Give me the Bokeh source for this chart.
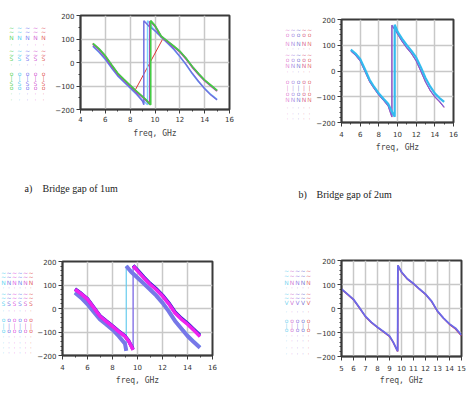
from bokeh.plotting import figure
from bokeh.layouts import column, row
from bokeh.models import FixedTicker, Range1d
from bokeh.core.properties import value
from bokeh.embed import file_html
from bokeh.resources import INLINE

# ---------------- data ----------------
# (a) bridge gap 1um
a_green_x = [5, 5.5, 6, 6.5, 7, 7.5, 8, 8.5, 9, 9.3, 9.65, 9.65, 10, 10.5, 11, 11.5, 12, 12.5, 13, 13.5, 14, 14.5, 15]
a_green_y = [81, 58, 28, -10, -46, -72, -97, -122, -145, -160, -180, 178, 157, 112, 91, 70, 48, 18, -17, -47, -75, -97, -119]
a_mag_x = [5, 5.5, 6, 6.5, 7, 7.5, 8, 8.5, 9, 9.3, 9.6, 9.6, 10, 10.5, 11, 11.5, 12, 12.5, 13, 13.5, 14, 14.5, 15]
a_mag_y = [79, 56, 26, -12, -48, -74, -99, -124, -147, -162, -178, 176, 155, 110, 89, 68, 46, 16, -19, -49, -77, -99, -121]
a_blue_x = [5, 5.5, 6, 6.5, 7, 7.5, 8, 8.5, 9, 9.1, 9.1, 9.5, 10, 10.5, 11, 11.5, 12, 12.5, 13, 13.5, 14, 14.5, 15]
a_blue_y = [70, 45, 15, -22, -56, -82, -107, -133, -165, -180, 178, 155, 135, 110, 84, 58, 26, -8, -46, -80, -112, -138, -159]
a_cyan_x = [5, 5.5, 6, 6.5, 7, 7.5, 8, 8.5, 9, 9.4, 9.4, 10, 10.5, 11, 11.5, 12, 12.5, 13, 13.5, 14, 14.5, 15]
a_cyan_y = [68, 43, 13, -24, -58, -84, -109, -135, -160, -180, 178, 133, 108, 82, 56, 24, -10, -48, -82, -110, -136, -157]
a_red_x = [5, 6, 7, 8.4, 10.6, 11, 12, 13, 14, 15]
a_red_y = [80, 27, -47, -118, 98, 90, 47, -18, -76, -120]

# (b) bridge gap 2um
b_cyan_x = [5, 5.5, 6, 6.5, 7, 7.5, 8, 8.5, 9, 9.5, 9.7, 9.7, 10, 10.5, 11, 11.5, 12, 12.5, 13, 13.5, 14, 14.5, 15]
b_cyan_y = [83, 68, 47, 8, -33, -62, -87, -108, -127, -165, -178, 180, 153, 125, 100, 78, 53, 15, -27, -60, -87, -105, -120]
b_pur_x = [5, 5.5, 6, 6.5, 7, 7.5, 8, 8.5, 9, 9.4, 9.4, 10, 10.5, 11, 11.5, 12, 12.5, 13, 13.5, 14, 14.5, 15]
b_pur_y = [78, 62, 40, 0, -40, -68, -93, -113, -135, -178, 178, 145, 115, 90, 68, 40, 0, -42, -75, -100, -118, -140]
b_red_y = [77, 61, 39, -1, -41, -69, -94, -114, -136, -179, 177, 144, 114, 89, 67, 39, -1, -43, -76, -101, -120, -142]

# (c)
c_mag_x = [5, 5.5, 6, 6.5, 7, 7.5, 8, 8.5, 9, 9.3, 9.65, 9.65, 10, 10.5, 11, 11.5, 12, 12.5, 13, 13.5, 14, 14.5, 15]
c_mag_y = [81, 62, 39, 3, -33, -55, -76, -98, -119, -140, -176, 181, 160, 130, 103, 80, 53, 20, -19, -45, -67, -92, -119]
c_blue_y = [83, 64, 41, 5, -31, -53, -74, -96, -117, -138, -174, 183, 164, 134, 107, 84, 57, 24, -15, -41, -63, -88, -114]
c_slate_x = [5, 5.5, 6, 6.5, 7, 7.5, 8, 8.5, 9, 9.1, 9.1, 9.5, 10, 10.5, 11, 11.5, 12, 12.5, 13, 13.5, 14, 14.5, 15]
c_slate_y = [67, 45, 18, -15, -47, -68, -90, -118, -150, -180, 181, 155, 131, 106, 81, 55, 24, -12, -53, -85, -117, -143, -167]
c_cyan_y = [69, 47, 20, -13, -45, -66, -88, -116, -148, -178, 181, 157, 133, 108, 83, 57, 26, -10, -51, -83, -113, -140, -164]

# (d)
d_x = [5, 5.5, 6, 6.5, 7, 7.5, 8, 8.5, 9, 9.3, 9.6, 9.68, 9.7, 10, 10.5, 11, 11.5, 12, 12.5, 13, 13.5, 14, 14.5, 15]
d_blue_y = [81, 60, 38, 3, -33, -58, -78, -96, -115, -139, -170, -178, 180, 152, 123, 104, 81, 60, 31, -11, -40, -64, -82, -111]
d_red_y = [80, 59, 37, 2, -34, -59, -79, -97, -116, -140, -171, -179, 179, 151, 122, 103, 80, 59, 30, -12, -41, -66, -85, -114]

x_ticks_2 = [4, 6, 8, 10, 12, 14, 16]
x_minor_2 = [5, 7, 9, 11, 13, 15]
x_ticks_1 = [5, 6, 7, 8, 9, 10, 11, 12, 13, 14, 15]
y_ticks = [-200, -100, 0, 100, 200]
x_label = "freq, GHz"
caption_marks = ["a)", "Bridge gap of 1um", "b)", "Bridge gap of 2um"]

# legend glyph rows (the garbled trace names at the left of each chart)
leg_a_chars = ["~", "~", "N", "·", "~", "~", "S", "·", "o", "|", "S", "o", "·", "·"]
leg_b_chars = ["~", "o", "N", "·", "~", "o", "N", "·", "o", "|", "o", "N", "·", "·", "·"]
leg_c_chars = ["~", "~", "N", "·", "~", "~", "S", "·", "o", "|", "o", "·", "·", "·", "·"]
leg_d_chars = ["~", "~", "N", "·", "~", "~", "V", "·", "o", "|", "o", "·", "·", "·", "·"]

# ---------------- styling ----------------
GRID = "#c8c8c8"
DARK = "#3a3a3a"
leg_a_rows = [27, 31, 37, 44, 50, 54, 58, 64, 73, 77, 83, 87, 93, 99]
leg_b_rows = [29, 34, 43, 48, 54, 59, 65, 71, 81, 87, 93, 99, 107, 113, 118]
leg_c_rows = [32, 36, 42, 47, 53, 57, 63, 70, 79, 85, 90, 96, 102, 107, 112]
leg_d_rows = [30, 35, 42, 47, 53, 57, 62, 71, 80, 85, 89, 95, 100, 107, 113]


def make_fig(w, h, left, right, top, bottom, xr, xt, xm, ym, tick_dy, lab_dy):
    p = figure(width=w, height=h, x_range=xr, y_range=(-200, 200), title=None,
               output_backend="svg", toolbar_location=None, frame_align=False,
               min_border_left=left, min_border_right=right,
               min_border_top=top, min_border_bottom=bottom)
    p.background_fill_color = "white"
    p.border_fill_color = "white"
    p.outline_line_color = DARK
    p.outline_line_width = 2
    p.xaxis.ticker = FixedTicker(ticks=xt, minor_ticks=xm)
    p.yaxis.ticker = FixedTicker(ticks=y_ticks, minor_ticks=ym)
    p.xgrid.ticker = FixedTicker(ticks=xt)
    p.ygrid.ticker = FixedTicker(ticks=y_ticks)
    for g in (p.xgrid, p.ygrid):
        g.grid_line_color = GRID
        g.grid_line_width = 1.5
    for ax in (p.xaxis, p.yaxis):
        ax.axis_line_color = DARK
        ax.axis_line_width = 1.5
        ax.major_tick_line_color = DARK
        ax.minor_tick_line_color = DARK
        ax.major_tick_in = 0
        ax.major_tick_out = 4
        ax.minor_tick_in = 0
        ax.minor_tick_out = 2
        ax.major_label_text_font = "DejaVu Sans"
        ax.major_label_text_font_size = "7px"
        ax.major_label_text_color = "#333333"
    p.xaxis.major_label_standoff = tick_dy
    p.yaxis.major_label_standoff = 2
    p.xaxis.axis_label = x_label
    p.xaxis.axis_label_text_font = "DejaVu Sans Mono"
    p.xaxis.axis_label_text_font_size = "8px"
    p.xaxis.axis_label_text_font_style = "normal"
    p.xaxis.axis_label_text_color = "#444444"
    p.xaxis.axis_label_standoff = lab_dy
    return p


def blank(w, h):
    p = figure(width=w, height=h, x_range=Range1d(0, w), y_range=Range1d(h, 0),
               title=None, output_backend="svg", toolbar_location=None,
               min_border=0, frame_align=False)
    p.axis.visible = False
    p.grid.visible = False
    p.outline_line_color = None
    p.background_fill_color = "white"
    p.border_fill_color = "white"
    return p


def legend_fig(w, h, x0, dx, colors, rows, chars):
    p = blank(w, h)
    xs, ys, ts, cs = [], [], [], []
    for yy, ch in zip(rows, chars):
        for i, c in enumerate(colors):
            xs.append(x0 + i * dx)
            ys.append(yy)
            ts.append(ch)
            cs.append(c)
    p.text(x=xs, y=ys, text=ts, text_color=cs, text_font=value("DejaVu Sans"),
           text_font_size="6px", text_align="center", text_baseline="middle",
           text_alpha=0.85)
    return p


def pieces(xs, ys):
    # split a wrapped phase trace into its two branches (before / after the jump)
    k = [i for i in range(1, len(xs)) if ys[i] - ys[i - 1] > 180][0]
    return (xs[:k], ys[:k]), (xs[k:], ys[k:])


# ---- top row
leg_a = legend_fig(52, 160, 11, 8, ["#44cc44", "#33c4ee", "#6666ee", "#cc44cc", "#dd4444"],
                   leg_a_rows, leg_a_chars)
pa = make_fig(188, 160, 25, 11, 15, 51, (4, 16), x_ticks_2, x_minor_2,
              list(range(-200, 201, 50)), 2, 4)
pa.line(a_red_x, a_red_y, line_color="#dd3333", line_width=1)
pa.line(a_cyan_x, a_cyan_y, line_color="#7cd0ff", line_width=1.5)
pa.line(a_blue_x, a_blue_y, line_color="#7070e0", line_width=1.5)
pa.line(a_mag_x, a_mag_y, line_color="#cc22cc", line_width=2)
pa.line(a_green_x, a_green_y, line_color="#44cc44", line_width=1.8)

leg_b = legend_fig(73, 160, 47, 5.5, ["#e07ad0", "#a080e0", "#7070d0", "#d05080", "#e06060"],
                   leg_b_rows, leg_b_chars)
pb = make_fig(156, 160, 22, 16, 19, 38, (4, 16), x_ticks_2, x_minor_2,
              list(range(-200, 201, 20)), 4, 3)
pb.line(b_pur_x, b_red_y, line_color="#cc4477", line_width=1)
pb.line(b_pur_x, b_pur_y, line_color="#8060d8", line_width=1.2)
pb.line(b_cyan_x, b_cyan_y, line_color="#33bbee", line_width=2.2)

# ---- caption band
cap = blank(469, 80)
cap.text(x=[24, 42, 298, 316], y=[28, 28, 34, 34], text=caption_marks,
         text_font=value("Liberation Serif"), text_font_size="10px",
         text_color="#222222", text_baseline="middle", text_align="left")

# ---- bottom row
leg_c = legend_fig(34, 177, 3, 5.5, ["#44ccee", "#6666dd", "#dd44dd", "#5577ee", "#cc44cc", "#dd4444"],
                   leg_c_rows, leg_c_chars)
pc = make_fig(206, 177, 25, 28, 21, 62, (4, 16), x_ticks_2, x_minor_2,
              list(range(-200, 201, 20)), 4, 3)
# thin connectors (full traces)
pc.line(c_slate_x, c_cyan_y, line_color="#66ccee", line_width=1.2)
pc.line(c_mag_x, c_mag_y, line_color="#8c7ce8", line_width=1.5)
for (px, py) in pieces(c_slate_x, c_cyan_y):
    pc.line(px, py, line_color="#66ddee", line_width=3)
for (px, py) in pieces(c_slate_x, c_slate_y):
    pc.line(px, py, line_color="#7777e8", line_width=4)
for (px, py) in pieces(c_mag_x, c_blue_y):
    pc.line(px, py, line_color="#2222cc", line_width=3.5)
for (px, py) in pieces(c_mag_x, c_mag_y):
    pc.line(px, py, line_color="#ee22ee", line_width=3.5)

leg_d = legend_fig(73, 177, 46, 5.5, ["#66ccee", "#cc66cc", "#8866dd", "#6666cc", "#dd5555"],
                   leg_d_rows, leg_d_chars)
pd_ = make_fig(156, 177, 23, 8, 20, 61, (5, 15), x_ticks_1, [],
               list(range(-200, 201, 20)), 4, 2)
pd_.line(d_x, d_red_y, line_color="#cc3355", line_width=1.5)
pd_.line(d_x, d_blue_y, line_color="#6a6aea", line_width=1.8)

layout = column(row(leg_a, pa, leg_b, pb), cap, row(leg_c, pc, leg_d, pd_))
open("out.html", "w").write(file_html(layout, INLINE))
